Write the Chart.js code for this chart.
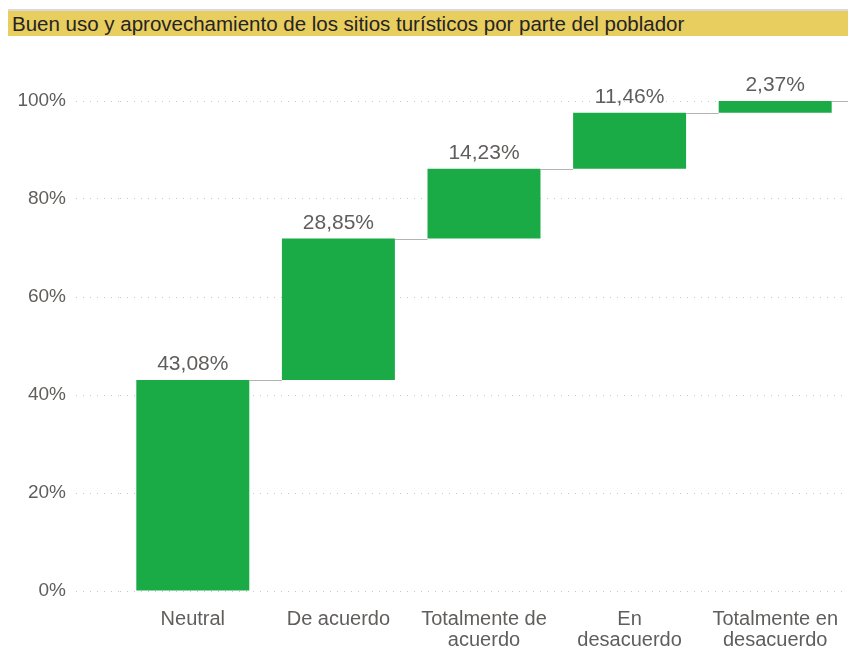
<!DOCTYPE html>
<html>
<head>
<meta charset="utf-8">
<script src="https://cdn.jsdelivr.net/npm/chart.js@4/dist/chart.umd.min.js"></script>
<style>
    body { margin: 0; background: #fff; }
    #cadre { position: relative; width: 848px; height: 651px; }
    #titre {
        position: absolute; left: 8px; right: 0; top: 9px; height: 25px;
        border-top: 2px solid #d9d9d9;
        background: #e8cd5f; color: #252423;
        font: 20.5px "Liberation Sans", Arial, sans-serif;
        line-height: 25px; padding-left: 4px; white-space: nowrap;
    }
    canvas { position: absolute; left: 0; top: 0; }
</style>
</head>
<body>
<div id="cadre">
    <canvas id="graphique-cascade" width="848" height="651"></canvas>
    <div id="titre">Buen uso y aprovechamiento de los sitios turísticos por parte del poblador</div>
</div>
<script>
// Catégories (réponses) et pourcentages
const categories = [
    "Neutral",
    "De acuerdo",
    ["Totalmente de", "acuerdo"],
    ["En", "desacuerdo"],
    ["Totalmente en", "desacuerdo"],
];
const pourcentages = [43.08, 28.85, 14.23, 11.46, 2.37];
const graduations = [0, 20, 40, 60, 80, 100];

// Barres flottantes : chaque barre part du cumul précédent
const barres = [];
let cumul = 0;
for (let i = 0; i < pourcentages.length; i++) {
    barres.push([cumul, cumul + pourcentages[i]]);
    cumul += pourcentages[i];
}

const gris = "#605e5c";
const police = "'Liberation Sans', Arial, sans-serif";

// Lignes de liaison entre les barres + étiquettes de valeur
const pluginCascade = {
    id: "cascade",
    afterDatasetsDraw(chart) {
        const ctx = chart.ctx;
        const meta = chart.getDatasetMeta(0);
        const y = chart.scales.y;
        ctx.save();
        ctx.strokeStyle = "#b3b3b3";
        ctx.lineWidth = 1;
        for (let i = 0; i < meta.data.length; i++) {
            const barre = meta.data[i];
            const yHaut = Math.round(y.getPixelForValue(barres[i][1])) + 0.5;
            const xFin = i < meta.data.length - 1
                ? meta.data[i + 1].x - meta.data[i + 1].width / 2
                : chart.chartArea.right;
            ctx.beginPath();
            ctx.moveTo(barre.x + barre.width / 2, yHaut);
            ctx.lineTo(xFin, yHaut);
            ctx.stroke();
        }
        ctx.fillStyle = gris;
        ctx.font = "21px " + police;
        ctx.textAlign = "center";
        ctx.textBaseline = "alphabetic";
        for (let i = 0; i < meta.data.length; i++) {
            const barre = meta.data[i];
            const texte = pourcentages[i].toFixed(2).replace(".", ",") + "%";
            ctx.fillText(texte, barre.x, y.getPixelForValue(barres[i][1]) - 10);
        }
        ctx.restore();
    }
};

new Chart(document.querySelector("#graphique-cascade"), {
    type: "bar",
    data: {
        labels: categories,
        datasets: [{
            data: barres,
            backgroundColor: "#1aab46",
            borderWidth: 0,
            barPercentage: 0.776,
            categoryPercentage: 1,
        }],
    },
    options: {
        responsive: false,
        animation: false,
        layout: { padding: { top: 101, right: 0, left: 0, bottom: 0 } },
        plugins: {
            legend: { display: false },
            tooltip: { enabled: false },
        },
        scales: {
            x: {
                grid: { display: false },
                border: { display: false },
                ticks: {
                    color: gris,
                    font: { family: police, size: 20, lineHeight: 1.05 },
                    padding: 10,
                    maxRotation: 0,
                    autoSkip: false,
                },
                afterFit(scale) {
                    scale.height = 60;
                    scale.paddingLeft = 0;
                    scale.paddingRight = 0;
                },
            },
            y: {
                min: 0,
                max: 100,
                afterBuildTicks(scale) {
                    scale.ticks = graduations.map(v => ({ value: v }));
                },
                grid: {
                    color: "#c8c8c8",
                    tickColor: "#c8c8c8",
                    tickLength: 44,
                    tickBorderDash: [1, 6],
                },
                border: { display: false, dash: [1, 6] },
                ticks: {
                    color: gris,
                    font: { family: police, size: 19 },
                    padding: 10,
                    callback: v => v + "%",
                },
                afterFit(scale) { scale.width = 120; },
            },
        },
    },
    plugins: [pluginCascade],
});
</script>
</body>
</html>
